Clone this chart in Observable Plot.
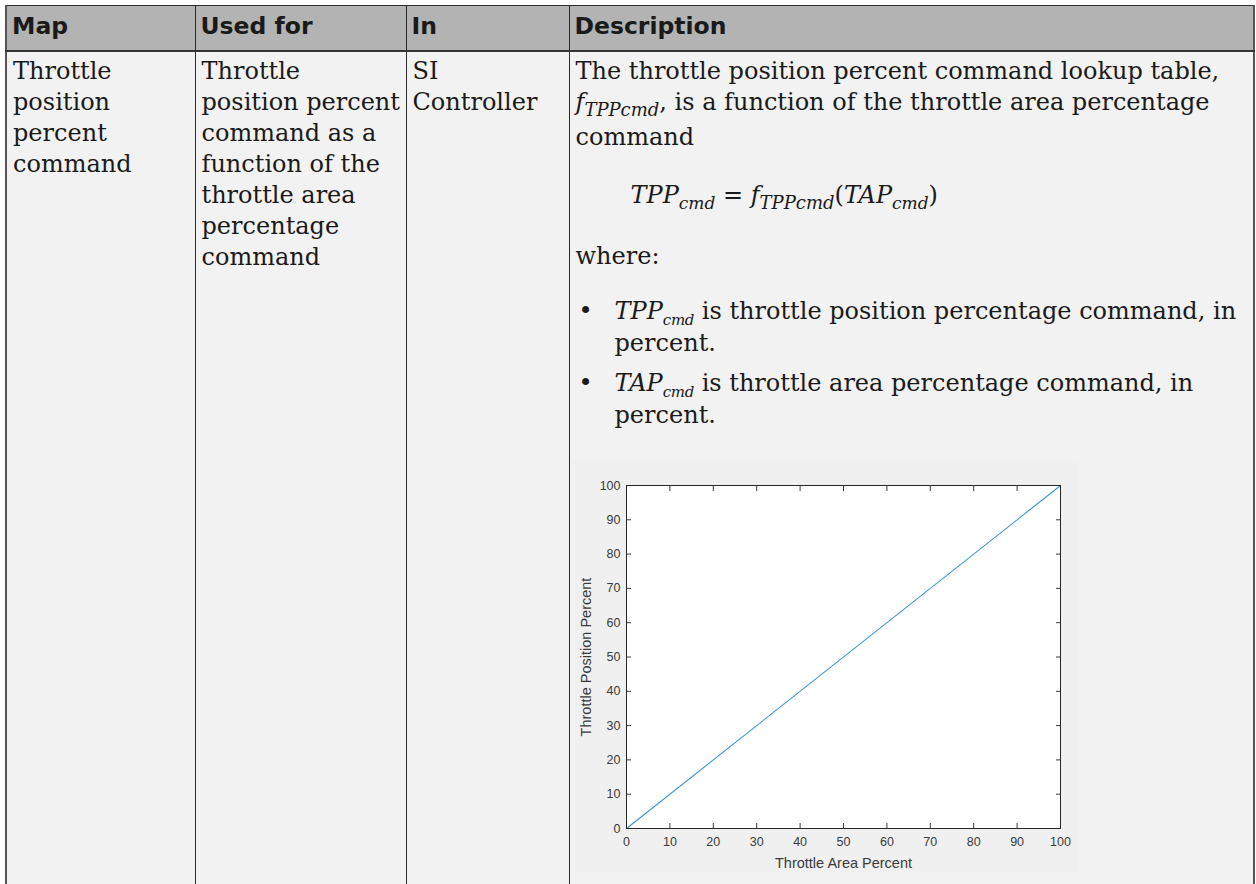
<!DOCTYPE html>
<html>
<head>
<meta charset="utf-8">
<script src="https://cdn.jsdelivr.net/npm/d3@7"></script>
<script src="https://cdn.jsdelivr.net/npm/@observablehq/plot@0.6"></script>
<style>
  html, body { margin: 0; padding: 0; background: #ffffff; overflow: hidden; }
  body { width: 1256px; height: 884px; position: relative; }
  table.doc {
    position: absolute; left: 5px; top: 5px;
    border-collapse: collapse; table-layout: fixed; width: 1248px;
    font-family: "DejaVu Serif", serif; font-size: 24px; color: #1a1a1a;
  }
  table.doc th, table.doc td { border: 1px solid #2a2a2a; }
  table.doc tr > *:first-child { border-left: 2px solid #555; }
  table.doc tr > *:last-child { border-right: 2px solid #555; }
  table.doc th {
    background: #b3b3b3; font-family: "DejaVu Sans", sans-serif; font-weight: bold;
    font-size: 23.5px; text-align: left; line-height: 40px; padding: 0 2px 4px 5px;
    border-top: 1px solid #2a2a2a; border-bottom: 2px solid #333;
  }
  table.doc td {
    background: #f2f2f2; vertical-align: top; line-height: 31px; padding: 4px 2px 0 6px;
    height: 880px;
  }
  i { font-style: italic; }
  .sub1 { font-size: 18px; font-style: italic; vertical-align: -6px; line-height: 25px; }
  .sub2 { font-size: 17px; font-style: italic; vertical-align: -6px; line-height: 16px; }
  .sub3 { font-size: 15px; font-style: italic; vertical-align: -6px; line-height: 15px; letter-spacing: -0.3px; }
  p { margin: 0; }
  .eq { margin: 27px 0 0 55px; }
  .where { margin-top: 26px; }
  ul { list-style: none; margin: 24px 0 0 0; padding: 0 0 0 39px; }
  li { position: relative; }
  li + li { margin-top: 9px; }
  li::before { content: "•"; position: absolute; left: -36px; top: 0; }
  #chart { margin-top: 30px; margin-left: -4px; line-height: 0; }
</style>
</head>
<body>
<table class="doc">
  <colgroup>
    <col style="width:189px"><col style="width:211px"><col style="width:163px"><col style="width:685px">
  </colgroup>
  <thead>
    <tr><th>Map</th><th>Used for</th><th>In</th><th>Description</th></tr>
  </thead>
  <tbody>
    <tr>
      <td>Throttle position percent command</td>
      <td>Throttle position percent command as a function of the throttle area percentage command</td>
      <td>SI Controller</td>
      <td>
        <p>The throttle position percent command lookup table, <i>f</i><span class="sub1">TPPcmd</span>, is a function of the throttle area percentage command</p>
        <p class="eq"><i>TPP</i><span class="sub2">cmd</span> = <i>f</i><span class="sub1">TPPcmd</span>(<i>TAP</i><span class="sub2">cmd</span>)</p>
        <p class="where">where:</p>
        <ul>
          <li><i>TPP</i><span class="sub3">cmd</span> is throttle position percentage command, in percent.</li>
          <li><i>TAP</i><span class="sub3">cmd</span> is throttle area percentage command, in percent.</li>
        </ul>
        <div id="chart"></div>
      </td>
    </tr>
  </tbody>
</table>
<script>
// Lookup table breakpoints
const throttleAreaPercent = [0, 100];
const throttlePositionPercent = [0, 100];
const xTicks = [0, 10, 20, 30, 40, 50, 60, 70, 80, 90, 100];
const yTicks = [0, 10, 20, 30, 40, 50, 60, 70, 80, 90, 100];
const xLabel = "Throttle Area Percent";
const yLabel = "Throttle Position Percent";

const rows = throttleAreaPercent.map((a, i) => ({area: a, position: throttlePositionPercent[i]}));

const chart = Plot.plot({
  width: 507,
  height: 412,
  marginLeft: 54,
  marginRight: 19,
  marginTop: 24,
  marginBottom: 45,
  style: {"background": "#f0f0f0", "font-family": "'Liberation Sans', Arial, sans-serif", "font-size": "12.5px", "color": "#3a3a3a", "overflow": "visible"},
  x: {domain: [0, 100]},
  y: {domain: [0, 100]},
  marks: [
    Plot.frame({fill: "white", stroke: null}),
    Plot.line(rows, {x: "area", y: "position", stroke: "#3a94d6", strokeWidth: 1.1}),
    Plot.axisX(xTicks, {anchor: "bottom", tickSize: -5, tickPadding: 14, label: xLabel, labelAnchor: "center", labelOffset: 39, labelArrow: "none", fontSize: 12.5}),
    Plot.axisX(xTicks, {anchor: "top", tickSize: -5, tickFormat: () => "", label: null}),
    Plot.axisY(yTicks, {anchor: "left", tickSize: -5, tickPadding: 11, label: yLabel, labelAnchor: "center", labelOffset: 46, labelArrow: "none", fontSize: 12.5}),
    Plot.axisY(yTicks, {anchor: "right", tickSize: -5, tickFormat: () => "", label: null}),
    Plot.frame({stroke: "#262626", strokeWidth: 1})
  ]
});
chart.querySelectorAll("[aria-label$='axis label'] text").forEach(t => t.style.fontSize = "14.5px");
document.getElementById("chart").appendChild(chart);
</script>
</body>
</html>
